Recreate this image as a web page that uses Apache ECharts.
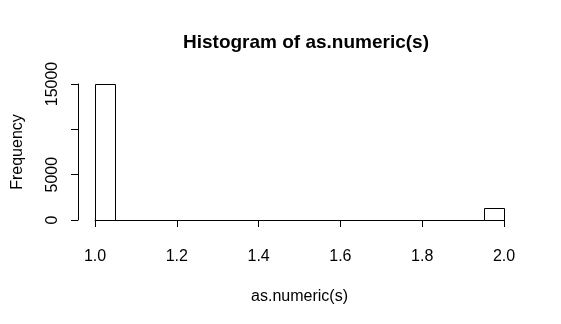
<!DOCTYPE html>
<html>
<head>
<meta charset="utf-8">
<script src="https://cdn.jsdelivr.net/npm/echarts@6/dist/echarts.min.js"></script>
<style>
html,body{margin:0;padding:0;background:#fff;}
#c{width:561px;height:324px;}
</style>
</head>
<body>
<div id="c"></div>
<script>
const binStarts = [1.00,1.05,1.10,1.15,1.20,1.25,1.30,1.35,1.40,1.45,1.50,1.55,1.60,1.65,1.70,1.75,1.80,1.85,1.90,1.95];
const binEnds   = [1.05,1.10,1.15,1.20,1.25,1.30,1.35,1.40,1.45,1.50,1.55,1.60,1.65,1.70,1.75,1.80,1.85,1.90,1.95,2.00];
const counts    = [15000,0,0,0,0,0,0,0,0,0,0,0,0,0,0,0,0,0,0,1300];
const xTicks = [1.0,1.2,1.4,1.6,1.8,2.0];
const yTicks = [0,5000,10000,15000];
const yLabelsShown = [0,5000,15000];

const data = binStarts.map((s,i)=>[s, binEnds[i], counts[i]]);
const FONT = 'Liberation Sans, Arial, sans-serif';

const chart = echarts.init(document.getElementById('c'), null, {renderer:'canvas'});
chart.setOption({
  animation:false,
  backgroundColor:'#fff',
  title:{
    text:'Histogram of as.numeric(s)',
    left:301, top:28, textAlign:'center',
    textStyle:{fontFamily:FONT, fontSize:19, fontWeight:'bold', color:'#000'}
  },
  grid:{left:95, right:57, top:84, bottom:104},
  xAxis:{
    type:'value', min:xTicks[0], max:xTicks[xTicks.length-1], interval:0.2, offset:6,
    name:'as.numeric(s)', nameLocation:'middle', nameGap:63,
    nameTextStyle:{fontFamily:FONT, fontSize:16, color:'#000'},
    axisLine:{show:true, lineStyle:{color:'#000', width:1}},
    axisTick:{show:true, length:7, lineStyle:{color:'#000'}},
    axisLabel:{fontFamily:FONT, fontSize:16, color:'#000', margin:23,
      formatter:v=>v.toFixed(1), showMinLabel:true, showMaxLabel:true},
    splitLine:{show:false}
  },
  yAxis:{
    type:'value', min:yTicks[0], max:yTicks[yTicks.length-1], interval:5000, offset:17,
    name:'Frequency', nameLocation:'middle', nameGap:52, nameRotate:90,
    nameTextStyle:{fontFamily:FONT, fontSize:16, color:'#000'},
    axisLine:{show:true, lineStyle:{color:'#000', width:1}},
    axisTick:{show:true, length:7, lineStyle:{color:'#000'}},
    axisLabel:{fontFamily:FONT, fontSize:16, color:'#000', rotate:90, margin:17,
      formatter:v=>yLabelsShown.indexOf(v)>=0 ? String(v) : ''},
    splitLine:{show:false}
  },
  series:[{
    type:'custom',
    data:data,
    encode:{x:[0,1], y:2},
    renderItem:function(params, api){
      const p0 = api.coord([api.value(0), 0]);
      const p1 = api.coord([api.value(1), api.value(2)]);
      const x0 = Math.round(p0[0])+0.5, x1 = Math.round(p1[0])+0.5;
      const y0 = Math.round(p0[1])+0.5, y1 = Math.round(p1[1])+0.5;
      return {type:'rect', shape:{x:x0, y:y1, width:x1-x0, height:y0-y1},
        style:{fill:'#fff', stroke:'#000', lineWidth:1}};
    }
  }]
});
</script>
</body>
</html>
